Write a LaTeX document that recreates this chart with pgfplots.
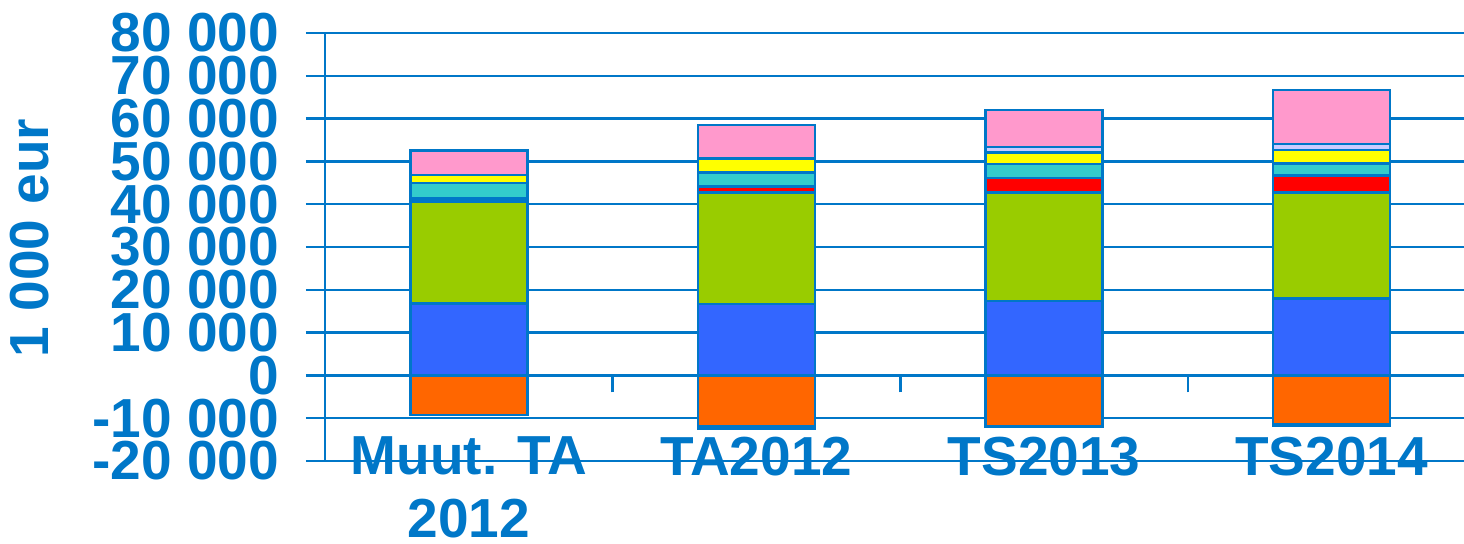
\documentclass[border=0pt]{standalone}
\usepackage{pgfplots}
\pgfplotsset{compat=1.18}
\usepackage{fontspec}
\setmainfont{Liberation Sans}
\definecolor{bluec}{HTML}{0077C8}
\definecolor{corange}{HTML}{FF6600}
\definecolor{cblue}{HTML}{3366FF}
\definecolor{cgreen}{HTML}{99CC00}
\definecolor{cred}{HTML}{FF0000}
\definecolor{cteal}{HTML}{33CCCC}
\definecolor{cyellow}{HTML}{FFFF00}
\definecolor{clav}{HTML}{CCCCFF}
\definecolor{cpink}{HTML}{FF99CC}
\newcommand{\bigfont}{\fontsize{27.5}{31.5}\selectfont\bfseries}
\begin{document}
\begin{tikzpicture}
\useasboundingbox (-162.5pt,-41.5pt) rectangle (569.5pt,230.5pt);
\pgfplotsset{base/.style={scale only axis, width=569.5pt, height=214pt,
  xmin=-0.5, xmax=3.46, ymin=-20000, ymax=80000, bar width=58.5pt,
  every axis plot/.append style={draw=bluec, line width=1.25pt}}}
\begin{axis}[base, ybar stacked,
  axis x line*=bottom, axis y line*=left,
  axis line style={-, draw=bluec, line width=1.25pt},
  ymajorgrids, grid style={draw=bluec, line width=1.25pt},
  scaled y ticks=false,
  ytick={-20000,-10000,0,10000,20000,30000,40000,50000,60000,70000,80000},
  yticklabels={-20 000,-10 000,0,10 000,20 000,30 000,40 000,50 000,60 000,70 000,80 000},
  yticklabel style={font=\bigfont, text=bluec, xshift=-10pt},
  ytick style={draw=bluec, line width=1.25pt},
  tick align=outside, major tick length=9.5pt,
  xtick={0,1,2,3}, xticklabels={{Muut. TA\\2012},TA2012,TS2013,TS2014},
  xticklabel style={font=\bigfont, text=bluec, align=center, anchor=north, yshift=25pt},
  xtick style={draw=none},
  ylabel={1 000 eur},
  ylabel style={font=\fontsize{27.5}{32}\selectfont\bfseries, text=bluec, at={(axis description cs:-0.259,0.521)}, anchor=center},
]
\addplot[fill=cblue] coordinates {(0,16800) (1,16700) (2,17400) (3,18000)};
\addplot[fill=cgreen] coordinates {(0,23800) (1,26000) (2,25300) (3,24700)};
\addplot[fill=bluec] coordinates {(0,800) (1,0) (2,0) (3,0)};
\addplot[fill=cred] coordinates {(0,0) (1,1400) (2,3400) (3,4000)};
\addplot[fill=cteal] coordinates {(0,3500) (1,3250) (2,3300) (3,2750)};
\addplot[fill=cyellow] coordinates {(0,1900) (1,3300) (2,2650) (3,3250)};
\addplot[fill=clav] coordinates {(0,0) (1,0) (2,1350) (3,1350)};
\addplot[fill=cpink] coordinates {(0,5800) (1,7800) (2,8600) (3,12600)};
\end{axis}
\begin{axis}[base, ybar stacked,
  axis y line=none, axis x line*=middle,
  x axis line style={draw=none},
  scaled y ticks=false,
  xtick={0.5,1.5,2.5}, xticklabels={},
  xtick style={draw=bluec, line width=1.25pt},
  tick align=outside, major tick length=8.5pt,
]
\addplot[fill=corange] coordinates {(0,-9300) (1,-12000) (2,-11900) (3,-11300)};
\addplot[fill=bluec] coordinates {(0,0) (1,-500) (2,0) (3,-400)};
\end{axis}
\end{tikzpicture}
\end{document}
